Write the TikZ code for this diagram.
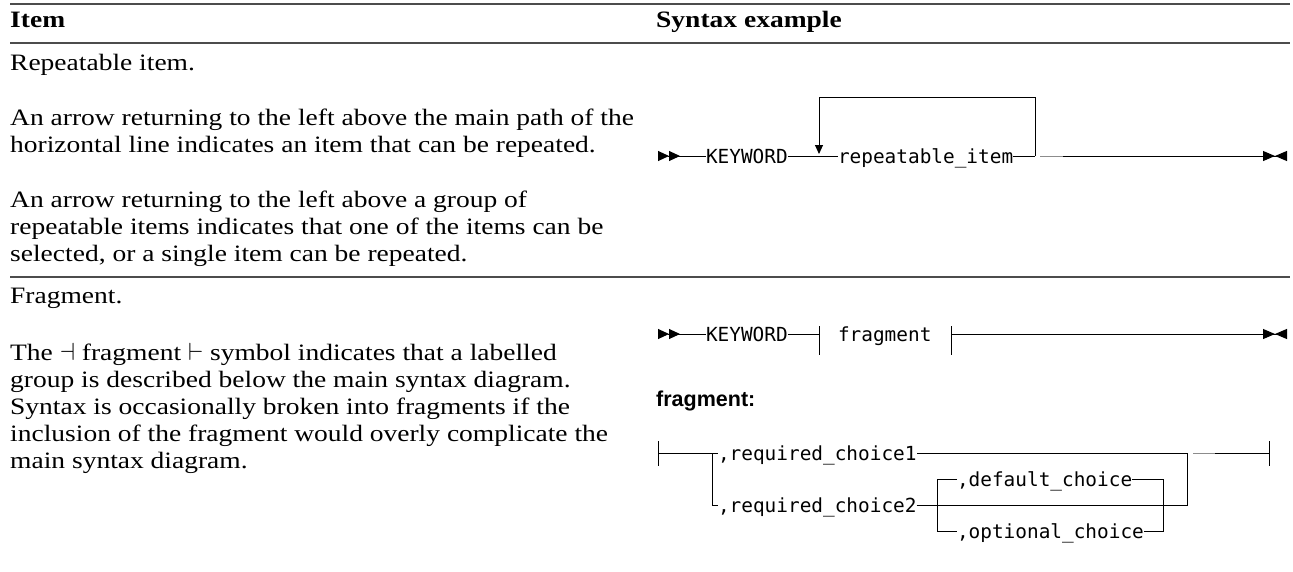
\documentclass[tikz,border=0pt]{standalone}
\usepackage{fontspec}
\setmainfont{Liberation Serif}[FakeStretch=1.17]
\newfontfamily\railfont{DejaVu Sans Mono}
\newfontfamily\labelfont{Liberation Sans}
\usetikzlibrary{arrows.meta}

\begin{document}
\begin{tikzpicture}[x=1pt,y=-1pt,
  txt/.style={anchor=base west,inner sep=0pt,font=\fontsize{23.5}{27}\selectfont},
  hd/.style={txt,font=\fontsize{23.5}{27}\selectfont\bfseries},
  kw/.style={anchor=west,inner sep=0pt,outer sep=0pt,text height=14pt,text depth=0pt,font=\railfont\fontsize{19.4}{22}\selectfont},
  rail/.style={line width=1pt},
  rule/.style={line width=1.6pt,black!70},
  starttip/.style={{Triangle[reversed,length=11pt,width=10pt,sep=0pt]Triangle[reversed,length=11pt,width=10pt,sep=0pt]}-},
  endtip/.style={-{Triangle[length=12pt,width=10pt,sep=0pt]Triangle[reversed,length=12pt,width=10pt,sep=0pt]}},
  downtip/.style={-{Triangle[length=9pt,width=8pt]}}]
\useasboundingbox (0,0) rectangle (1293,571);

\draw[rule] (10,4) -- (1290,4);
\draw[rule] (10,43) -- (1290,43);
\draw[rule] (10,277) -- (1290,277);
\node[hd] (hitem) at (10,27) {Item};
\node[hd] (hsyn) at (656,27) {Syntax example};

\foreach \y/\t in {70/Repeatable item.,
  125/An arrow returning to the left above the main path of the,
  152/horizontal line indicates an item that can be repeated.,
  207/An arrow returning to the left above a group of,
  234/repeatable items indicates that one of the items can be,
  261/{selected, or a single item can be repeated.},
  303/Fragment.,
  360/The $\dashv$ fragment $\vdash$ symbol indicates that a labelled,
  387/group is described below the main syntax diagram.,
  414/Syntax is occasionally broken into fragments if the,
  441/inclusion of the fragment would overly complicate the,
  468/main syntax diagram.}
  \node[txt] (line\y) at (10,\y) {\t};

\coordinate (s1) at (658,156);
\node[kw] (kw1) at (706,156) {KEYWORD};
\node[kw] (rep) at (838,156) {repeatable\_item};
\coordinate (lpR) at (1035,156);
\coordinate (lpT) at (1035,97);
\coordinate (lpL) at (819,154);
\coordinate (g1a) at (1040,156);
\coordinate (g1b) at (1063,156);
\coordinate (e1) at (1287,156);
\draw[rail,starttip] (s1) -- (kw1);
\draw[rail] (kw1) -- (rep) -- (lpR);
\draw[rail,downtip] (lpR) -- (lpT) -| (lpL);
\draw[rail,black!45] (g1a) -- (g1b);
\draw[rail,endtip] (g1b) -- (e1);

\coordinate (s2) at (658,334);
\node[kw] (kw2) at (706,334) {KEYWORD};
\coordinate (fbL) at (819,334);
\node[kw] (frag) at (838,334) {fragment};
\coordinate (fbR) at (951,334);
\coordinate (e2) at (1287,334);
\draw[rail,starttip] (s2) -- (kw2);
\draw[rail] (kw2) -- (fbL);
\draw[rail] ([yshift=8pt]fbL) -- ([yshift=-21pt]fbL);
\draw[rail] ([yshift=8pt]fbR) -- ([yshift=-21pt]fbR);
\draw[rail,endtip] (fbR) -- (e2);

\node[anchor=base west,inner sep=0pt,font=\labelfont\bfseries\fontsize{21.5}{24}\selectfont] (fraglbl) at (656,406) {fragment:};

\coordinate (fs) at (658,453);
\coordinate (fj) at (712,453);
\node[kw] (rc1) at (718,453) {,required\_choice1};
\node[kw] (rc2) at (718,505) {,required\_choice2};
\node[kw] (dc) at (957,479) {,default\_choice};
\node[kw] (oc) at (957,531) {,optional\_choice};
\coordinate (btl) at (937,479);
\coordinate (bbl) at (937,531);
\coordinate (btr) at (1163,479);
\coordinate (bbr) at (1163,531);
\coordinate (jr) at (1187,505);
\coordinate (g2a) at (1193,453);
\coordinate (g2b) at (1215,453);
\coordinate (fe) at (1269,453);
\draw[rail] ([yshift=12pt]fs) -- ([yshift=-13pt]fs);
\draw[rail] (fs) -- (rc1);
\draw[rail] (fj) |- (rc2);
\draw[rail] (rc2) -- (jr) |- (rc1);
\draw[rail] (dc) -- (btl) -- (bbl) -- (oc);
\draw[rail] (dc) -- (btr) -- (bbr) -- (oc);
\draw[rail,black!45] (g2a) -- (g2b);
\draw[rail] (g2b) -- (fe);
\draw[rail] ([yshift=12pt]fe) -- ([yshift=-13pt]fe);
\end{tikzpicture}
\end{document}
